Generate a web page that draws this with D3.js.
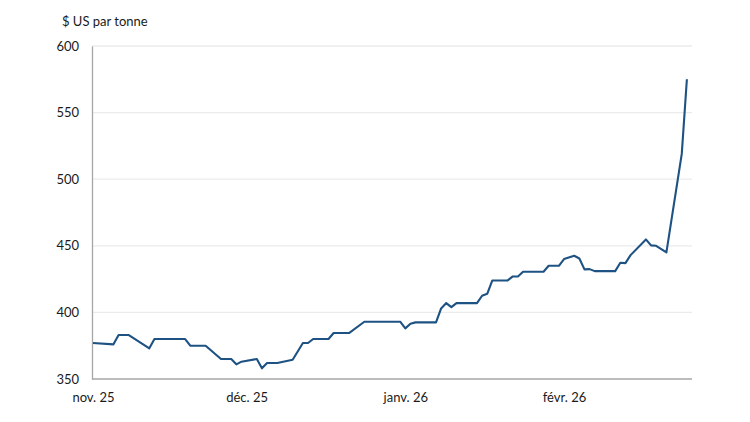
<!DOCTYPE html>
<html>
<head>
<meta charset="utf-8">
<script src="https://cdn.jsdelivr.net/npm/d3@7"></script>
<style>
  html, body { margin: 0; padding: 0; background: #fff; }
  svg { display: block; }
  text { font-family: Lato, "Open Sans", sans-serif; fill: #1a1a1a; }
</style>
</head>
<body>
<svg id="chart" width="750" height="422"></svg>
<script>
// Data
const dates = [
  "2025-11-01","2025-11-05","2025-11-06","2025-11-08","2025-11-12","2025-11-13",
  "2025-11-19","2025-11-20","2025-11-23","2025-11-26","2025-11-28","2025-11-29",
  "2025-11-30","2025-12-03","2025-12-04","2025-12-05","2025-12-07","2025-12-10",
  "2025-12-12","2025-12-13","2025-12-14","2025-12-17","2025-12-18","2025-12-21",
  "2025-12-24","2025-12-31","2026-01-01","2026-01-02","2026-01-03","2026-01-07",
  "2026-01-08","2026-01-09","2026-01-10","2026-01-11","2026-01-15","2026-01-16",
  "2026-01-17","2026-01-18","2026-01-21","2026-01-22","2026-01-23","2026-01-24",
  "2026-01-28","2026-01-29","2026-01-31","2026-02-01","2026-02-03","2026-02-04",
  "2026-02-05","2026-02-06","2026-02-07","2026-02-11","2026-02-12","2026-02-13",
  "2026-02-14","2026-02-17","2026-02-18","2026-02-19","2026-02-21","2026-02-24",
  "2026-02-25"
];
const prices = [
  377, 376, 383, 383, 373, 380,
  380, 375, 375, 365, 365, 361,
  363, 365, 358, 362, 362, 364.5,
  377, 377, 380, 380, 384.5, 384.5,
  393, 393, 388, 391.5, 392.5, 392.5,
  403, 407, 404, 407, 407, 412.5,
  414, 424, 424, 427, 427, 430.5,
  430.5, 435, 435, 440, 442.5, 440.5,
  432.3, 432.5, 431, 431, 437.3, 437,
  443, 454.8, 450.3, 450, 445, 519,
  575
];
const yTicks = [350, 400, 450, 500, 550, 600];
const xTickDates = ["2025-11-01", "2025-12-01", "2026-01-01", "2026-02-01"];
const xTickLabels = ["nov. 25", "déc. 25", "janv. 26", "févr. 26"];
const yTitle = "$ US par tonne";

const parse = d3.utcParse("%Y-%m-%d");
const data = dates.map((d, i) => ({ date: parse(d), value: prices[i] }));

const svg = d3.select("#chart");
const mLeft = 92, mRight = 692, mTop = 46, mBottom = 379;

const x = d3.scaleUtc()
  .domain([parse("2025-11-01"), parse("2026-02-26")])
  .range([mLeft + 1, mRight]);
const y = d3.scaleLinear().domain([350, 600]).range([mBottom, mTop]);

// Gridlines
svg.append("g")
  .selectAll("line")
  .data(yTicks.filter(t => t > 350))
  .join("line")
  .attr("x1", mLeft).attr("x2", mRight)
  .attr("y1", d => y(d)).attr("y2", d => y(d))
  .attr("stroke", "#ebebeb").attr("stroke-width", 1.3);

// Y axis
const yAxis = svg.append("g")
  .attr("transform", `translate(${mLeft},0)`)
  .call(d3.axisLeft(y).tickValues(yTicks).tickSize(0).tickPadding(13));
yAxis.select(".domain").attr("stroke", "#a6a6a6").attr("stroke-width", 1.3);
yAxis.selectAll("text").attr("font-size", 13).attr("fill", "#1a1a1a")
  .style("font-family", "Lato, 'Open Sans', sans-serif");

// X axis
const xAxis = svg.append("g")
  .attr("transform", `translate(0,${mBottom})`)
  .call(d3.axisBottom(x)
    .tickValues(xTickDates.map(parse))
    .tickFormat((d, i) => xTickLabels[i])
    .tickSize(0).tickPadding(14));
xAxis.select(".domain").attr("stroke", "#a6a6a6").attr("stroke-width", 1.3)
  .attr("d", `M${mLeft},0H${mRight}`);
xAxis.selectAll("text").attr("font-size", 13).attr("fill", "#1a1a1a")
  .style("font-family", "Lato, 'Open Sans', sans-serif");

// Axis title
svg.append("text")
  .attr("x", 62).attr("y", 26)
  .attr("font-size", 13)
  .text(yTitle);

// Line
const line = d3.line().x(d => x(d.date)).y(d => y(d.value));
svg.append("path")
  .datum(data)
  .attr("fill", "none")
  .attr("stroke", "#1e5283")
  .attr("stroke-width", 2.1)
  .attr("stroke-linejoin", "round")
  .attr("d", line);
</script>
</body>
</html>
